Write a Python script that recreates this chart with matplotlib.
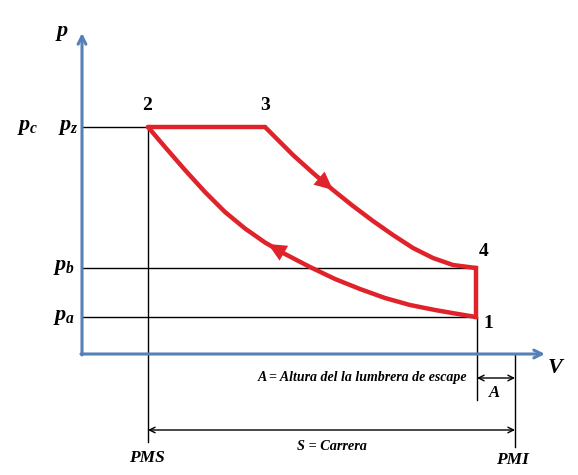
import numpy as np
import matplotlib.pyplot as plt

plt.rcParams['mathtext.fontset'] = 'custom'
plt.rcParams['mathtext.it'] = 'Liberation Serif:italic:bold'
plt.rcParams['mathtext.rm'] = 'Liberation Serif:bold'

# --- data (drawing units, y grows downward) ---
p2 = (148, 127)
p3 = (265, 127)
p4 = (476, 268)
p1 = (476, 317)

exp_x = [265, 275, 293, 313, 333, 353, 373, 393, 413, 433, 453, 476]
exp_y = [127, 137, 155, 173, 190, 206, 221, 235, 248, 258, 265, 268]

comp_x = [476, 455, 435, 410, 385, 360, 335, 310, 285, 265, 245, 225, 205, 185, 165, 148]
comp_y = [317, 313.5, 310, 305, 298, 289, 279, 267, 254, 242.5, 228.5, 212, 192, 170, 147, 127]

x_axis_y, y_axis_x = 354, 82
pms_x, pmi_x = 148, 515

blue = '#5581b8'
red = '#e0232b'

fig = plt.figure(figsize=(5.78, 4.75), dpi=100)
ax = fig.add_axes([0, 0, 1, 1])
ax.set_xlim(0, 578)
ax.set_ylim(475, 0)
ax.axis('off')

# axes arrows
ax.annotate('', xy=(y_axis_x, 33), xytext=(y_axis_x, x_axis_y + 1),
            arrowprops=dict(arrowstyle='->', color=blue, lw=2.2, mutation_scale=14, shrinkA=0, shrinkB=0))
ax.annotate('', xy=(545, x_axis_y), xytext=(y_axis_x - 1, x_axis_y),
            arrowprops=dict(arrowstyle='->', color=blue, lw=2.2, mutation_scale=14, shrinkA=0, shrinkB=0))

# guide lines
k = dict(color='black', lw=1.0)
ax.plot([y_axis_x, p2[0]], [p2[1], p2[1]], **k)
ax.plot([y_axis_x, p4[0]], [p4[1], p4[1]], **k)
ax.plot([y_axis_x, p1[0]], [p1[1], p1[1]], **k)
ax.plot([pms_x, pms_x], [p2[1], 442], **k)
ax.plot([p1[0] + 1, p1[0] + 1], [p1[1], 400], **k)
ax.plot([pmi_x, pmi_x], [x_axis_y, 447], **k)

ax.annotate('', xy=(p1[0] + 1, 378), xytext=(pmi_x, 378),
            arrowprops=dict(arrowstyle='<->', color='black', lw=1.0, mutation_scale=10, shrinkA=0, shrinkB=0))
ax.annotate('', xy=(pms_x, 430), xytext=(pmi_x, 430),
            arrowprops=dict(arrowstyle='<->', color='black', lw=1.0, mutation_scale=10, shrinkA=0, shrinkB=0))

# cycle
lw = 3.2
ax.plot([p2[0], p3[0]], [p2[1], p3[1]], color=red, lw=lw, solid_capstyle='round')
ax.plot(exp_x, exp_y, color=red, lw=lw, solid_joinstyle='round', solid_capstyle='round')
ax.plot([p4[0], p1[0]], [p4[1], p1[1]], color=red, lw=lw)
ax.plot(comp_x, comp_y, color=red, lw=lw, solid_joinstyle='round', solid_capstyle='round')

head = '-|>,head_length=0.6,head_width=0.28'
ax.annotate('', xy=(333, 190), xytext=(313, 173),
            arrowprops=dict(arrowstyle=head, color=red, lw=0, mutation_scale=22, shrinkA=0, shrinkB=0))
ax.annotate('', xy=(268, 244), xytext=(287, 255),
            arrowprops=dict(arrowstyle=head, color=red, lw=0, mutation_scale=22, shrinkA=0, shrinkB=0))

# labels
num = dict(fontsize=14, fontweight='bold', family='Liberation Serif', ha='center', va='center')
ax.text(147, 106, '2', **num)
ax.text(265, 106, '3', **num)
ax.text(484, 251, '4', **num)
ax.text(488, 323, '1', **num)

pl = dict(fontsize=16, ha='center', va='center')
ax.text(62, 33, r'$p$', **pl)
ax.text(28, 127, r'$p_c$', **pl)
ax.text(68, 127, r'$p_z$', **pl)
ax.text(64, 267, r'$p_b$', **pl)
ax.text(64, 317, r'$p_a$', **pl)
ax.text(556, 367, r'$V$', fontsize=16, ha='center', va='center')

it = dict(family='Liberation Serif', style='italic', fontweight='bold', ha='center', va='center')
ax.text(362, 377, 'A = Altura del la lumbrera de escape', fontsize=10, **it)
ax.text(494, 393, 'A', fontsize=12, **it)
ax.text(332, 447, 'S = Carrera', fontsize=10.3, **it)
ax.text(147, 458, 'PMS', fontsize=12.5, **it)
ax.text(512, 460, 'PMI', fontsize=12.5, **it)

fig.savefig('out.png', dpi=100)
